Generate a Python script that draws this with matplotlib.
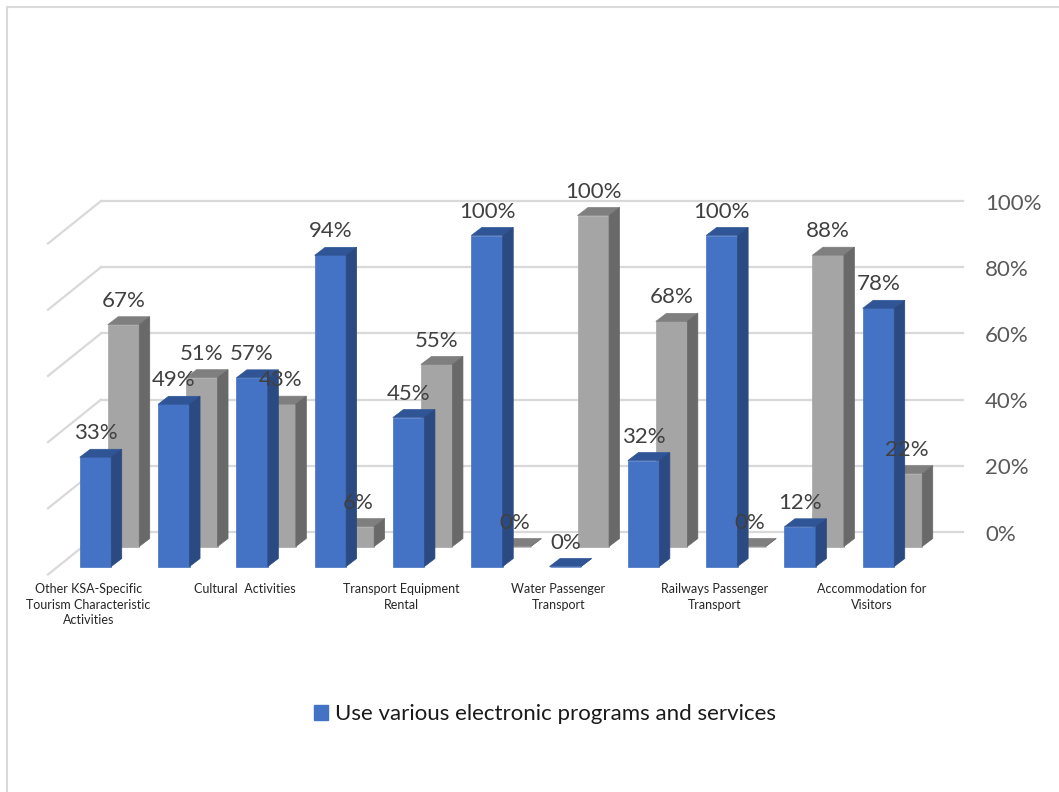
import matplotlib.pyplot as plt
from matplotlib.patches import Polygon, Rectangle

# values per activity (%), two series stacked in depth
use = [33, 49, 57, 94, 45, 100, 0, 32, 100, 12, 78]
not_use = [67, 51, 43, 6, 55, 0, 100, 68, 0, 88, 22]
category_labels = ['Other KSA-Specific\nTourism Characteristic\nActivities',
                   'Cultural  Activities',
                   'Transport Equipment\nRental',
                   'Water Passenger\nTransport',
                   'Railways Passenger\nTransport',
                   'Accommodation for\nVisitors']
label_step = 2
yticks = [0, 20, 40, 60, 80, 100]
legend_label = 'Use various electronic programs and services'

FONT = ['Lato', 'DejaVu Sans']
plt.rcParams['font.family'] = FONT

W, H = 1059, 792
fig = plt.figure(figsize=(W / 100, H / 100), dpi=100)
ax = fig.add_axes([0, 0, 1, 1])

# pixel scale of one category and one percent
pcat = 78.3
ppct = 3.31
x0px, y0px = 95.5, 566.5
ax.set_xlim(-x0px / pcat, (W - x0px) / pcat)
ax.set_ylim(-(H - y0px) / ppct, y0px / ppct)
ax.axis('off')

bw = 31.5 / pcat            # bar width
bdx, bdy = 10.5 / pcat, 8 / ppct      # bar depth
gdx, gdy = 28 / pcat, 20 / ppct       # second series sits further back
wdx, wdy = 43 / pcat, 34.5 / ppct     # back wall
fdx, fdy = -10 / pcat, -8 / ppct      # floor front edge

grid_c = '#D9D9D9'
wall_l = (101 - x0px) / pcat
wall_r = (963 - x0px) / pcat
for t in yticks:
    yb = t + wdy
    ax.plot([wall_l, wall_r], [yb, yb], color=grid_c, lw=1.6, zorder=0)
    ax.plot([wall_l - wdx + fdx, wall_l], [t + fdy, yb], color=grid_c, lw=1.6, zorder=0)
    ax.text((985 - x0px) / pcat, yb - 0.8, f'{t}%', ha='left', va='center',
            fontsize=16, color='#595959')


def draw_series(vals, ox, oy, front, top, side, z):
    xs = [i - bw / 2 + ox for i in range(len(vals))]
    ax.bar(xs, vals, width=bw, bottom=oy, align='edge', color=front,
           edgecolor=front, lw=0.5, zorder=z)
    for x, v in zip(xs, vals):
        yt = oy + v
        ax.add_patch(Polygon([(x, yt), (x + bw, yt), (x + bw + bdx, yt + bdy), (x + bdx, yt + bdy)],
                             closed=True, facecolor=top, edgecolor=top, lw=0.5, zorder=z))
        ax.add_patch(Polygon([(x + bw, oy), (x + bw + bdx, oy + bdy), (x + bw + bdx, yt + bdy), (x + bw, yt)],
                             closed=True, facecolor=side, edgecolor=side, lw=0.5, zorder=z))
    for i, v in enumerate(vals):
        ax.text(i + ox, oy + v + bdy + 3.0, f'{v}%', ha='center', va='baseline',
                fontsize=16, color='#404040', zorder=10)


draw_series(not_use, gdx, gdy, '#A5A5A5', '#7F7F7F', '#696969', 2)
draw_series(use, 0, 0, '#4472C4', '#2F5597', '#2B4A82', 4)

for k, lab in enumerate(category_labels):
    ax.text(k * label_step - 7 / pcat, -5.0, lab, ha='center', va='top',
            fontsize=9, color='#262626', linespacing=1.35)

# legend for the front series only
h = Rectangle((0, 0), 1, 1, color='#4472C4')
fig.legend([h], [legend_label], loc='center', bbox_to_anchor=(545 / W, 1 - 714 / H),
           frameon=False, fontsize=16, handlelength=0.65, handleheight=0.65,
           handletextpad=0.3, labelcolor='#1A1A1A')

# chart border
fig.patches.append(Rectangle((7 / W, -0.1), 1.2, 1.1 - 7 / H, transform=fig.transFigure,
                             fill=False, edgecolor=grid_c, lw=1.5))

fig.savefig('out.png', dpi=100)
